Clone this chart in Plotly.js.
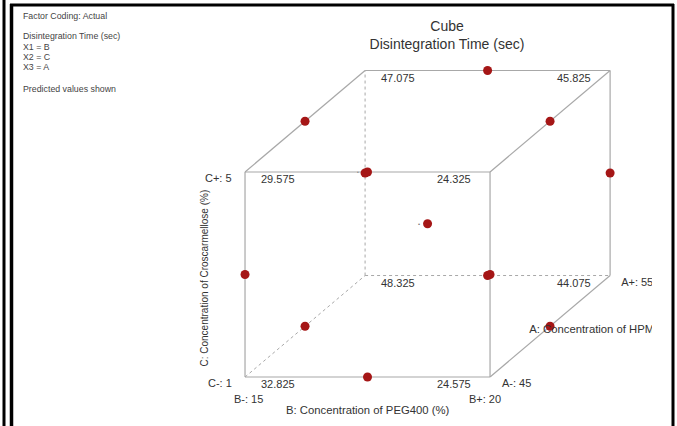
<!DOCTYPE html>
<html>
<head>
<meta charset="utf-8">
<script src="https://cdn.plot.ly/plotly-3.0.1.min.js"></script>
<style>
  html, body { margin: 0; padding: 0; background: #fff; }
  #chart { width: 677px; height: 426px; }
</style>
</head>
<body>
<div id="chart"></div>
<script>
// Factor levels (actual units)
const levelsB = [15, 20];   // B: Concentration of PEG400 (%)
const levelsC = [1, 5];     // C: Concentration of Croscarmellose (%)
const levelsA = [45, 55];   // A: Concentration of HPMC

// Cube corners and predicted disintegration time (sec)
const cornerB = [15, 20, 15, 20, 15, 20, 15, 20];
const cornerC = [1, 1, 5, 5, 1, 1, 5, 5];
const cornerA = [45, 45, 45, 45, 55, 55, 55, 55];
const cornerPred = [32.825, 24.575, 29.575, 24.325, 48.325, 44.075, 47.075, 45.825];

// Box-Behnken design runs (edge midpoints + centre)
const runB = [17.5, 17.5, 17.5, 17.5, 15, 20, 15, 20, 15, 20, 15, 20, 17.5];
const runC = [1, 5, 1, 5, 3, 3, 3, 3, 1, 1, 5, 5, 3];
const runA = [45, 45, 55, 55, 45, 45, 55, 55, 50, 50, 50, 50, 50];

// Oblique projection of the design space onto the page
const DX = 0.49, DY = 0.495;
const code = (v, lv) => (v - (lv[0] + lv[1]) / 2) / ((lv[1] - lv[0]) / 2);
function proj(a, b, c) {
  const ca = code(a, levelsA), cb = code(b, levelsB), cc = code(c, levelsC);
  return [cb + DX * (ca + 1), cc + DY * (ca + 1)];
}

const FONT = 'Liberation Sans, Arial, sans-serif';
const TXT = '#333';
const EDGE = '#a8a8a8';

// Cube edges: corners that differ in exactly one factor
const hidden = 4; // B-, C-, A+ corner sits behind the cube
const solid = {x: [], y: []}, dotted = {x: [], y: []};
for (let i = 0; i < 8; i++) {
  for (let j = i + 1; j < 8; j++) {
    const diff = (cornerA[i] !== cornerA[j]) + (cornerB[i] !== cornerB[j]) + (cornerC[i] !== cornerC[j]);
    if (diff !== 1) continue;
    const p = proj(cornerA[i], cornerB[i], cornerC[i]);
    const q = proj(cornerA[j], cornerB[j], cornerC[j]);
    const tgt = (i === hidden || j === hidden) ? dotted : solid;
    tgt.x.push(p[0], q[0], null);
    tgt.y.push(p[1], q[1], null);
  }
}

const runXY = runA.map((a, k) => proj(a, runB[k], runC[k]));

const traces = [
  {type: 'scatter', mode: 'lines', x: dotted.x, y: dotted.y,
   line: {color: EDGE, width: 1, dash: 'dot'}, hoverinfo: 'skip'},
  {type: 'scatter', mode: 'lines', x: solid.x, y: solid.y,
   line: {color: EDGE, width: 1.2}, hoverinfo: 'skip'},
  {type: 'scatter', mode: 'markers', x: runXY.map(p => p[0]), y: runXY.map(p => p[1]),
   marker: {color: '#a51616', size: 9}, hoverinfo: 'skip'}
];

// Labels at the right run past the plot edge, so they are clipped text traces
const aMid = proj(50, levelsB[1], levelsC[0]);
const bBR = proj(levelsA[1], levelsB[1], levelsC[0]);
traces.push({
  type: 'scatter', mode: 'text',
  x: [aMid[0] - 0.17, bBR[0] + 0.09], y: [aMid[1] - 0.04, bBR[1] - 0.073],
  text: ['A: Concentration of HPMC', 'A+: ' + levelsA[1]], textposition: 'middle right',
  textfont: {family: FONT, size: [11.3, 11], color: TXT}, cliponaxis: true, hoverinfo: 'skip'
});

const ann = [];
function addAt(p, text, opts) {
  ann.push(Object.assign({x: p[0], y: p[1], xref: 'x', yref: 'y', text: text, showarrow: false,
    font: {family: FONT, size: 11, color: TXT}}, opts));
}

// Predicted values at the corners
for (let i = 0; i < 8; i++) {
  const p = proj(cornerA[i], cornerB[i], cornerC[i]);
  const left = cornerB[i] === levelsB[0];
  addAt(p, cornerPred[i].toFixed(3), {
    xanchor: left ? 'left' : 'right', yanchor: 'middle',
    xshift: left ? 14 : -17, yshift: -7
  });
}

// Factor level labels
const fBL = proj(levelsA[0], levelsB[0], levelsC[0]);
const fBR = proj(levelsA[0], levelsB[1], levelsC[0]);
const fTL = proj(levelsA[0], levelsB[0], levelsC[1]);
addAt(fTL, 'C+: ' + levelsC[1], {xanchor: 'right', xshift: -11, yshift: -6});
addAt(fBL, 'C-: ' + levelsC[0], {xanchor: 'right', xshift: -11, yshift: -6});
addAt(fBL, 'B-: ' + levelsB[0], {xanchor: 'center', xshift: 3, yshift: -22});
addAt(fBR, 'B+: ' + levelsB[1], {xanchor: 'center', xshift: -5, yshift: -22});
addAt(fBR, 'A-: ' + levelsA[0], {xanchor: 'left', xshift: 10, yshift: -6});
addAt(proj(levelsA[0], 17.5, levelsC[0]), 'B: Concentration of PEG400 (%)',
  {xanchor: 'center', yshift: -33, font: {family: FONT, size: 11.3, color: TXT}});

// Replicate markers beside the centre runs
const ctr = proj(50, 17.5, 3);
addAt(ctr, '•', {xshift: -9, font: {family: FONT, size: 6, color: '#777'}});
addAt(proj(45, 17.5, 5), '•', {xshift: -10, font: {family: FONT, size: 5, color: '#888'}});

// C axis title
ann.push({x: 196 / 677, y: 1 - 278 / 426, xref: 'paper', yref: 'paper', showarrow: false,
  text: 'C: Concentration of Croscarmellose (%)', textangle: -90,
  font: {family: FONT, size: 10, color: TXT}});

// Legend block, top left
const info = [
  ['Factor Coding: Actual', 16],
  ['Disintegration Time (sec)', 36],
  ['X1 = B', 47],
  ['X2 = C', 57],
  ['X3 = A', 67],
  ['Predicted values shown', 89]
];
info.forEach(([t, py]) => ann.push({x: 21 / 677, y: 1 - py / 426, xref: 'paper', yref: 'paper',
  xanchor: 'left', yanchor: 'middle', showarrow: false, text: t,
  font: {family: FONT, size: 8.8, color: '#444'}}));

// Frame lines
const px = v => v / 677, py = v => 1 - v / 426;
const frame = [
  [4, 0, 4, 426, 3],
  [11.5, 4, 11.5, 426, 3.5],
  [10, 5, 674, 5, 3],
  [673, 4, 673, 426, 3]
].map(([x0, y0, x1, y1, w]) => ({type: 'line', xref: 'paper', yref: 'paper',
  x0: px(x0), y0: py(y0), x1: px(x1), y1: py(y1), line: {color: '#000', width: w}}));

const layout = {
  width: 677, height: 426,
  margin: {l: 0, r: 0, t: 0, b: 0},
  paper_bgcolor: '#fff', plot_bgcolor: '#fff',
  showlegend: false,
  title: {text: 'Cube<br>Disintegration Time (sec)', x: 447 / 677, xanchor: 'center',
    y: 1 - 31 / 426, yanchor: 'top', yref: 'container',
    font: {family: FONT, size: 14, color: TXT}},
  xaxis: {visible: false, range: [-3.0, 2.322], domain: [0, 652 / 677], fixedrange: true},
  yaxis: {visible: false, range: [-1.478, 2.678], domain: [0, 1], fixedrange: true},
  annotations: ann,
  shapes: frame
};

Plotly.newPlot('chart', traces, layout, {staticPlot: true, displayModeBar: false});
</script>
</body>
</html>
